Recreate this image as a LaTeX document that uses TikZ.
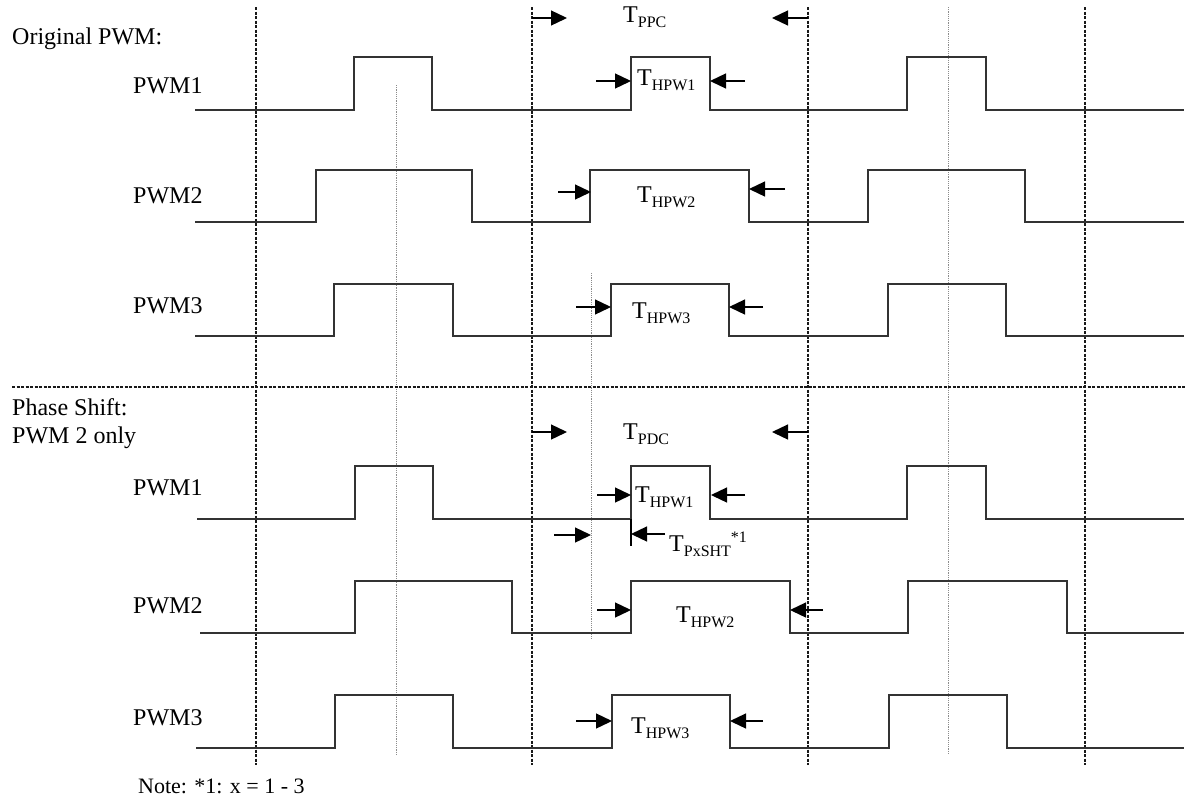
\documentclass[tikz,border=0pt]{standalone}
\usepackage{fontspec}
\setmainfont{Liberation Serif}
\usetikzlibrary{arrows.meta}
\newcommand{\tsub}[2][]{T\raisebox{-5.5pt}{\fontsize{16}{16}\selectfont #2}#1}

\begin{document}
\begin{tikzpicture}[x=1pt, y=-1pt,
      font=\fontsize{24}{26}\selectfont,
      sig/.style={line width=1.5pt, black!80},
      gridln/.style={dash pattern=on 3pt off 1.5pt, line width=1.1pt, black!90},
      aux/.style={dash pattern=on 1.2pt off 1pt, line width=1pt, black!45},
      arr/.style={-{Triangle[length=16pt,width=15pt]}, line width=1.3pt},
      lbl/.style={anchor=base west, inner sep=0pt}]
    \useasboundingbox (0,0) rectangle (1186,801);
    % time grid and section separator
    \foreach \gx in {256,532,808,1085}
      \draw[gridln] (\gx,7) -- (\gx,765);
    \draw[aux] (396,85) -- (396,755);
    \draw[aux] (948,7) -- (948,755);
    \draw[aux] (591,273) -- (591,640);
    \draw[gridln] (12,387) -- (1186,387);

    % section titles and signal names
    \node[lbl] (orig) at (12,44) {Original PWM:};
    \node[lbl] (oa) at (133,93) {PWM1};
    \node[lbl] (ob) at (133,203) {PWM2};
    \node[lbl] (oc) at (133,313) {PWM3};
    \node[lbl] (shift) at (12,415) {Phase Shift:};
    \node[lbl] (only) at (12,443) {PWM 2 only};
    \node[lbl] (sa) at (133,495) {PWM1};
    \node[lbl] (sb) at (133,613) {PWM2};
    \node[lbl] (sc) at (133,725) {PWM3};
    \node[lbl] (note) at (138,793) {\fontsize{22}{24}\selectfont Note: *1: x = 1 - 3};

    % original waveforms
    \draw[sig] (195,110) -| (354,57) -| (432,110) -| (631,57) -| (710,110) -| (907,57) -| (986,110) -- (1184,110);
    \draw[sig] (195,222) -| (316,170) -| (472,222) -| (590,170) -| (749,222) -| (868,170) -| (1025,222) -- (1184,222);
    \draw[sig] (195,336) -| (334,284) -| (453,336) -| (611,284) -| (729,336) -| (888,284) -| (1006,336) -- (1184,336);
    % phase shifted waveforms
    \draw[sig] (197,519) -| (355,466) -| (433,519) -| (631,466) -| (710,519) -| (907,466) -| (986,519) -- (1184,519);
    \draw[sig] (200,633) -| (355,581) -| (512,633) -| (631,581) -| (790,633) -| (908,581) -| (1067,633) -- (1184,633);
    \draw[sig] (196,748) -| (335,695) -| (453,748) -| (612,695) -| (730,748) -| (889,695) -| (1007,748) -- (1184,748);

    % timing labels
    \node[lbl] (ppc) at (623,22) {\tsub{PPC}};
    \node[lbl] (hpa) at (637,85) {\tsub{HPW1}};
    \node[lbl] (hpb) at (637,202) {\tsub{HPW2}};
    \node[lbl] (hpc) at (632,318) {\tsub{HPW3}};
    \node[lbl] (pdc) at (623,439) {\tsub{PDC}};
    \node[lbl] (hsa) at (635,502) {\tsub{HPW1}};
    \node[lbl] (sht) at (669,551) {\tsub[\raisebox{9pt}{\fontsize{16}{16}\selectfont *1}]{PxSHT}};
    \node[lbl] (hsb) at (676,622) {\tsub{HPW2}};
    \node[lbl] (hsc) at (631,733) {\tsub{HPW3}};

    % arrow ends
    \coordinate (ppc1) at (532,18);  \coordinate (ppc1e) at (567,18);
    \coordinate (ppc2) at (808,18);  \coordinate (ppc2e) at (772,18);
    \coordinate (hpa1) at (596,81);  \coordinate (hpa1e) at (631,81);
    \coordinate (hpa2) at (745,81);  \coordinate (hpa2e) at (710,81);
    \coordinate (hpb1) at (558,192); \coordinate (hpb1e) at (591,192);
    \coordinate (hpb2) at (785,189); \coordinate (hpb2e) at (749,189);
    \coordinate (hpc1) at (576,307); \coordinate (hpc1e) at (611,307);
    \coordinate (hpc2) at (763,307); \coordinate (hpc2e) at (729,307);
    \coordinate (pdc1) at (532,432); \coordinate (pdc1e) at (567,432);
    \coordinate (pdc2) at (808,432); \coordinate (pdc2e) at (772,432);
    \coordinate (hsa1) at (597,495); \coordinate (hsa1e) at (631,495);
    \coordinate (hsa2) at (745,495); \coordinate (hsa2e) at (711,495);
    \coordinate (sht1) at (554,535); \coordinate (sht1e) at (591,535);
    \coordinate (sht2) at (665,534); \coordinate (sht2e) at (631,534);
    \coordinate (hsb1) at (597,610); \coordinate (hsb1e) at (631,610);
    \coordinate (hsb2) at (823,610); \coordinate (hsb2e) at (790,610);
    \coordinate (hsc1) at (576,721); \coordinate (hsc1e) at (612,721);
    \coordinate (hsc2) at (763,721); \coordinate (hsc2e) at (730,721);
    \foreach \a in {ppc,hpa,hpb,hpc,pdc,hsa,sht,hsb,hsc} {
      \draw[arr] (\a1) -- (\a1e);
      \draw[arr] (\a2) -- (\a2e);
    }
    \draw[line width=1.2pt] (631,519) -- (631,546);
  \end{tikzpicture}
\end{document}
